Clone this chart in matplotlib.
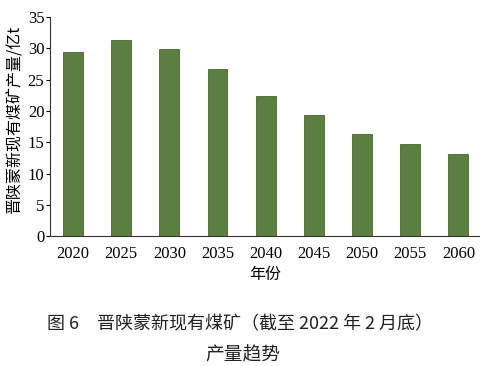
import matplotlib
matplotlib.use("Agg")
import matplotlib.pyplot as plt

years = ["2020", "2025", "2030", "2035", "2040", "2045", "2050", "2055", "2060"]
output = [29.5, 31.4, 29.9, 26.7, 22.4, 19.4, 16.4, 14.7, 13.2]
yticks = [0, 5, 10, 15, 20, 25, 30, 35]

cjk = ["Noto Sans CJK SC", "DejaVu Sans"]
serif = ["Liberation Serif", "DejaVu Serif"]

fig = plt.figure(figsize=(4.8, 3.66), dpi=100)
ax = fig.add_axes([0.104, 0.355, 0.896, 0.598])

x = list(range(len(years)))
ax.bar(x, output, width=0.41, color="#5c7f3f", edgecolor="#486a2e", linewidth=0.6)

ax.set_xlim(-0.48, 8.45)
ax.set_ylim(0, 35)
ax.set_yticks(yticks)
ax.set_yticklabels([str(v) for v in yticks], family=serif, fontsize=12)
ax.set_xticks(x)
ax.set_xticklabels(years, family=serif, fontsize=12)
ax.tick_params(axis="x", length=0, pad=7)
ax.tick_params(axis="y", length=3, width=0.8, direction="out", pad=1)

for s in ["top", "right"]:
    ax.spines[s].set_visible(False)
for s in ["left", "bottom"]:
    ax.spines[s].set_linewidth(0.8)
    ax.spines[s].set_color("#333333")

fig.text(15.5 / 480, 1 - 120 / 366, "晋陕蒙新现有煤矿产量/亿t", family=cjk, fontsize=11.5,
         rotation=90, ha="center", va="center")
ax.set_xlabel("年份", family=cjk, fontsize=11.5, labelpad=3)

fig.text(0.5, 1 - 324 / 366, "图 6　晋陕蒙新现有煤矿（截至 2022 年 2 月底）",
         family=cjk, fontsize=13, ha="center", va="center", color="#222222")
fig.text(0.506, 1 - 355 / 366, "产量趋势",
         family=cjk, fontsize=13.5, ha="center", va="center", color="#222222")

fig.savefig("out.png", dpi=100)
